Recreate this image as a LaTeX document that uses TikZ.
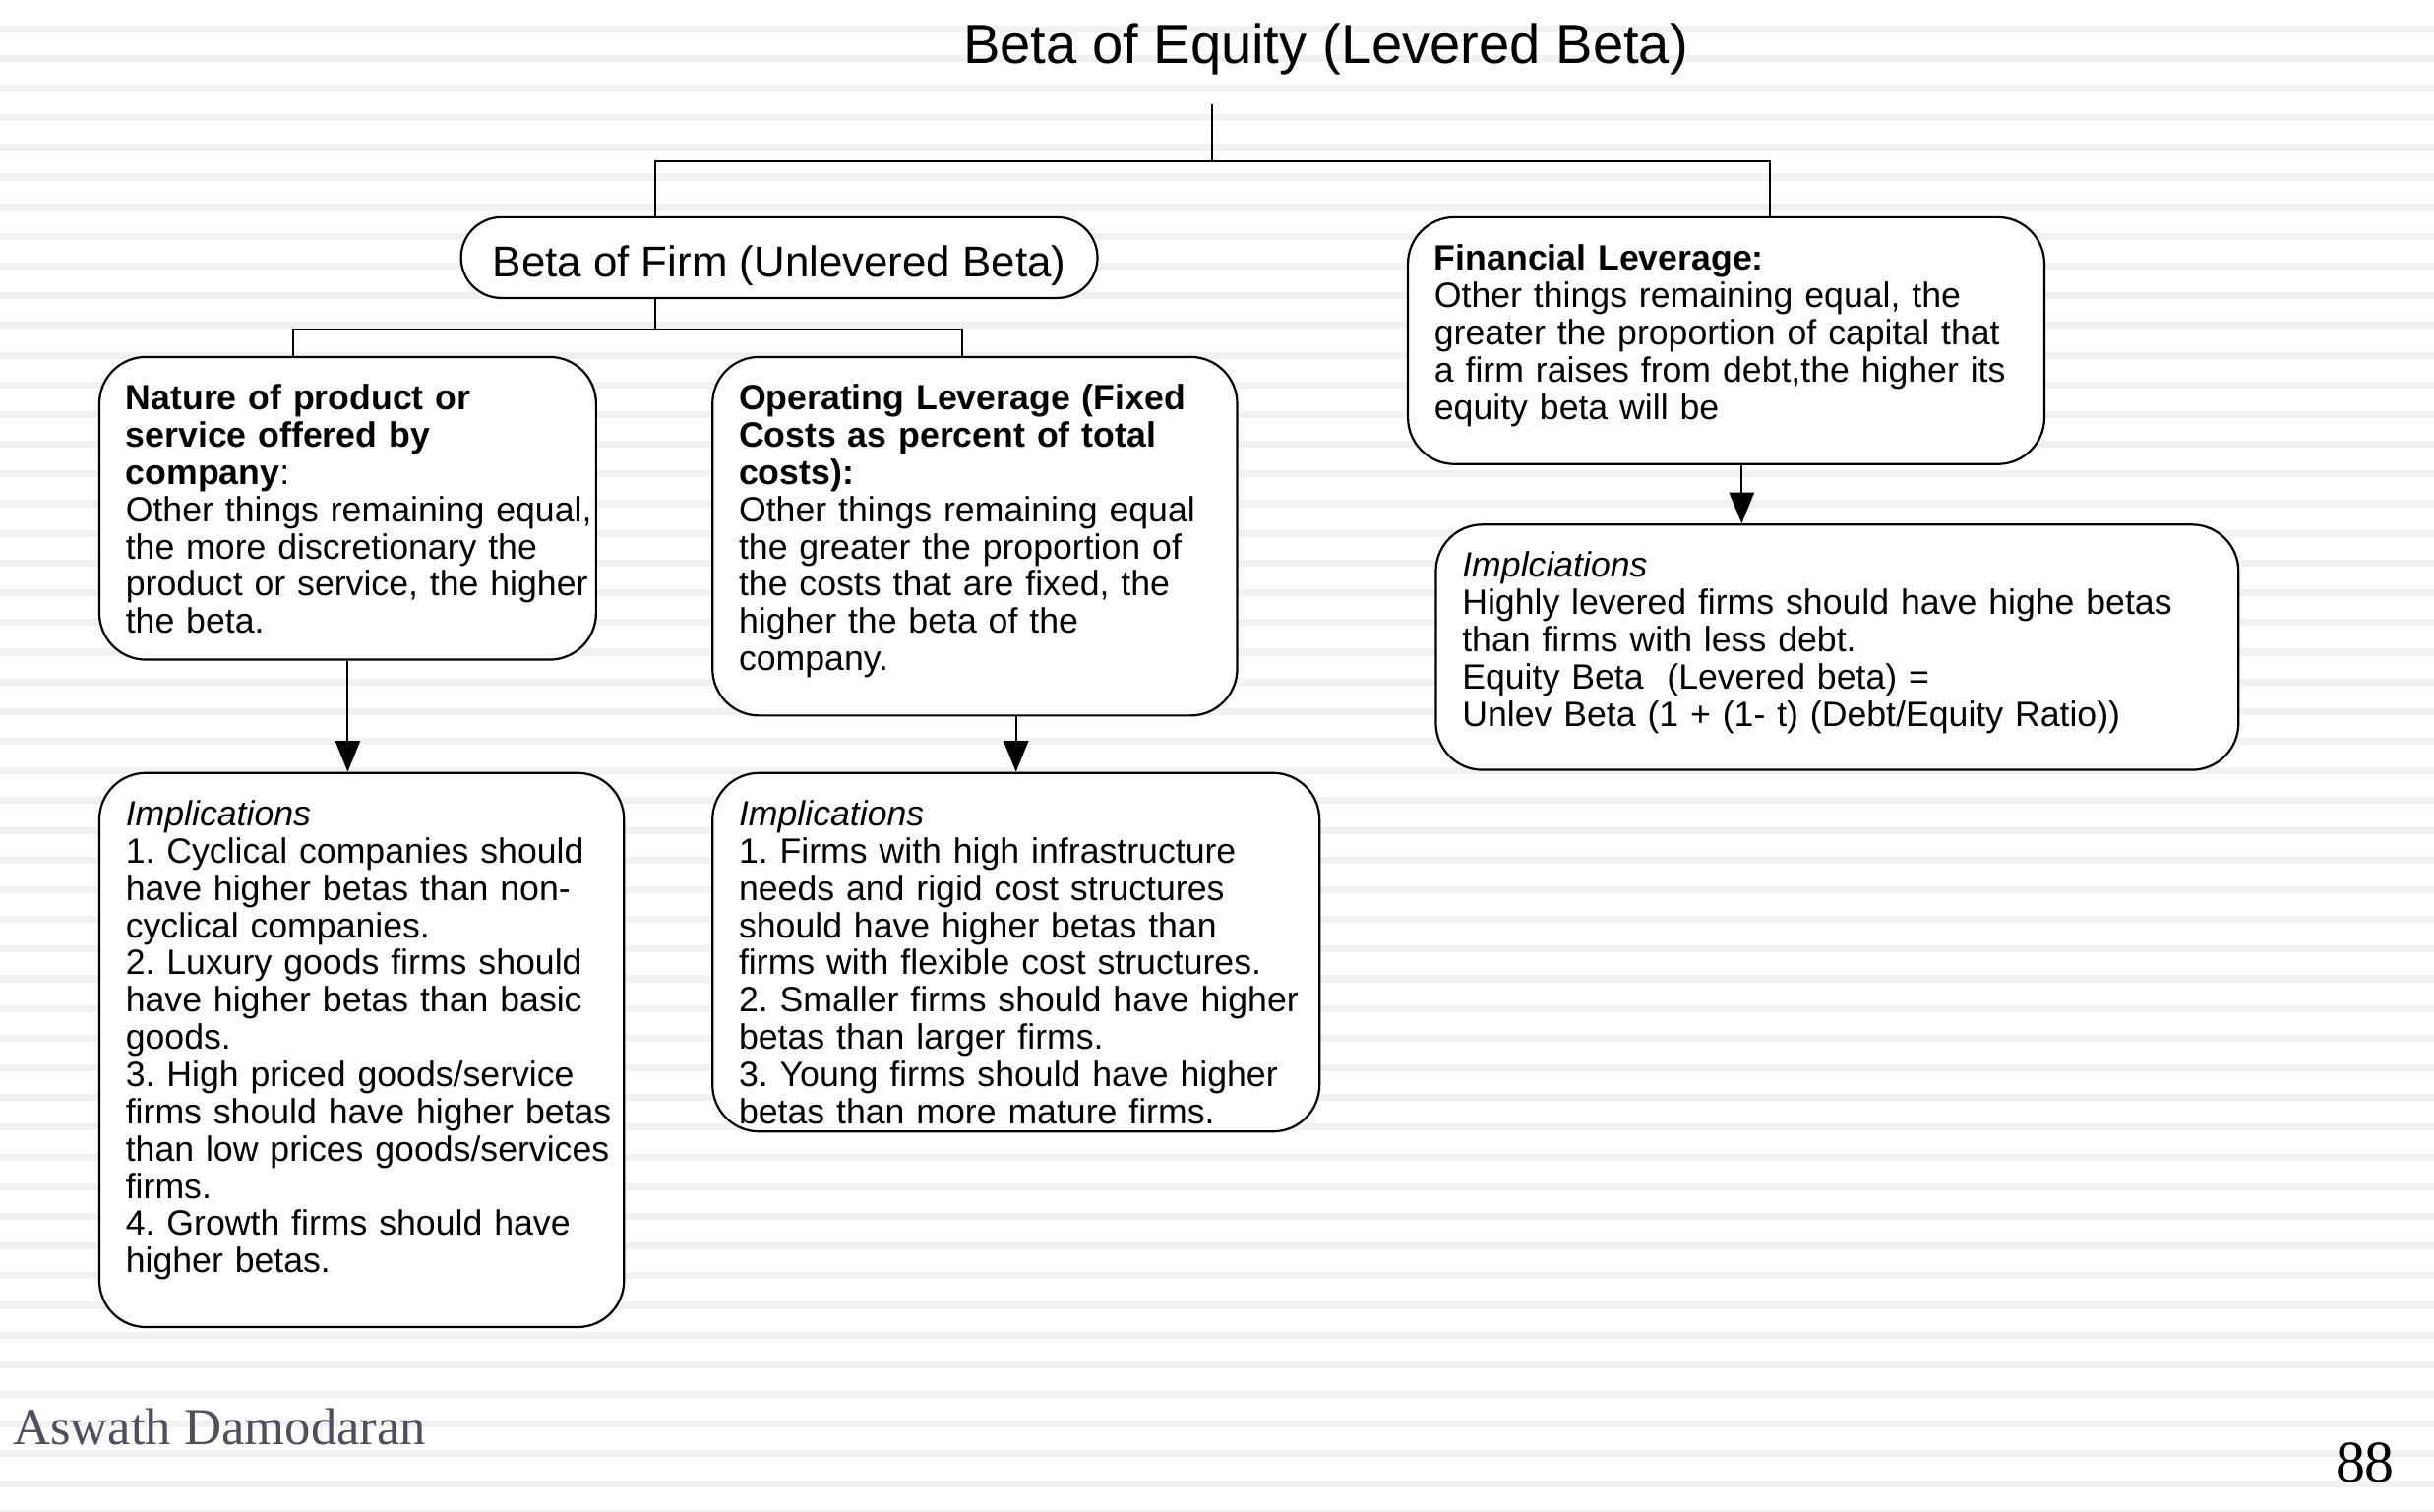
\documentclass[tikz,border=0pt]{standalone}
\usepackage{fontspec}
\setmainfont{Liberation Sans}
\newfontfamily\footfont{Liberation Serif}
\usetikzlibrary{arrows.meta}
\definecolor{stripegray}{gray}{0.945}
\definecolor{footgray}{RGB}{80,80,92}
\frenchspacing
\begin{document}
\begin{tikzpicture}[x=0.5pt,y=-0.5pt,
    box/.style={draw,line width=0.7pt,fill=white,rounded corners=15pt,
      align=left,inner xsep=8.5pt,inner ysep=7.5pt,text height=9.5pt,
      font={\fontsize{11.3}{12}\selectfont},
      execute at begin node={\rightskip=-2em plus 1fil}},
    pill/.style={draw,line width=0.7pt,fill=white,rounded corners=13pt,
      inner sep=0pt,text height=12.7pt,text depth=0pt,
      font={\fontsize{13.9}{15}\selectfont}},
    conn/.style={line width=0.6pt},
    arr/.style={line width=0.6pt,-{Triangle[length=10pt,width=8pt]}}]
  % background
  \useasboundingbox (0,0) rectangle (1568,974);
  \fill[white] (0,0) rectangle (1568,974);
  \foreach \k in {0,...,50}
    \fill[stripegray] (0,{16.2+19.13*\k}) rectangle (1568,{20.7+19.13*\k});

  \node[anchor=base,inner sep=0pt,font={\fontsize{17.8}{20}\selectfont}] (title) at (854,41) {Beta of Equity (Levered Beta)};
  \node[pill,minimum width=205pt,minimum height=26pt] (unlev) at (502,166) {Beta of Firm (Unlevered Beta)};
  \node[box,text width=188pt,text depth=55pt] (finlev) at (1112,219.5) {\textbf{Financial Leverage:}\\
    Other things remaining equal, the\\
    greater the proportion of capital that\\
    a firm raises from debt,the higher its\\
    equity beta will be};
  \node[box,text width=143pt,text depth=73pt] (nature) at (224,327.5) {\textbf{Nature of product or}\\
    \textbf{service offered by}\\
    \textbf{company}:\\
    Other things remaining equal,\\
    the more discretionary the\\
    product or service, the higher\\
    the beta.};
  \node[box,text width=152pt,text depth=91pt] (oper) at (628,345.5) {\textbf{Operating Leverage (Fixed}\\
    \textbf{Costs as percent of total}\\
    \textbf{costs):}\\
    Other things remaining equal\\
    the greater the proportion of\\
    the costs that are fixed, the\\
    higher the beta of the\\
    company.};
  \node[box,text width=152pt,text depth=154pt] (natimpl) at (233,676.5) {\textit{Implications}\\
    1. Cyclical companies should\\
    have higher betas than non-\\
    cyclical companies.\\
    2. Luxury goods firms should\\
    have higher betas than basic\\
    goods.\\
    3. High priced goods/service\\
    firms should have higher betas\\
    than low prices goods/services\\
    firms.\\
    4. Growth firms should have\\
    higher betas.};
  \node[box,text width=178.5pt,text depth=91pt] (opimpl) at (654.5,613.5) {\textit{Implications}\\
    1. Firms with high infrastructure\\
    needs and rigid cost structures\\
    should have higher betas than\\
    firms with flexible cost structures.\\
    2. Smaller firms should have higher\\
    betas than larger firms.\\
    3. Young firms should have higher\\
    betas than more mature firms.};
  \node[box,text width=241.5pt,text depth=54.5pt] (finimpl) at (1183.5,417) {\textit{Implciations}\\
    Highly levered firms should have highe betas\\
    than firms with less debt.\\
    Equity Beta \ (Levered beta) =\\
    Unlev Beta (1 + (1- t) (Debt/Equity Ratio))};

  % tree lines
  \coordinate (eqtop) at (781,67);
  \coordinate (eqhub) at (781,104);
  \coordinate (finx) at (1140,0);
  \coordinate (firmhub) at (422,212);
  \coordinate (natx) at (189,0);
  \coordinate (opx) at (620,0);
  \coordinate (finarr) at (1122,0);
  \draw[conn] (eqtop) -- (eqhub);
  \draw[conn] (unlev.north -| firmhub) |- (eqhub) -| (finlev.north -| finx);
  \draw[conn] (unlev.south -| firmhub) -- (firmhub);
  \draw[conn] (nature.north -| natx) |- (firmhub) -| (oper.north -| opx);
  \draw[arr] (nature.south) -- (nature.south |- natimpl.north);
  \draw[arr] (opimpl.north |- oper.south) -- (opimpl.north);
  \draw[arr] (finlev.south -| finarr) -- (finimpl.north -| finarr);

  % footer
  \node[anchor=base west,inner sep=0pt,text=footgray,font={\footfont\fontsize{16.7}{20}\selectfont}] (author) at (8,931) {Aswath Damodaran};
  \node[anchor=base east,inner sep=0pt,font={\footfont\fontsize{19}{22}\selectfont}] (page) at (1543,955) {88};
\end{tikzpicture}
\end{document}
